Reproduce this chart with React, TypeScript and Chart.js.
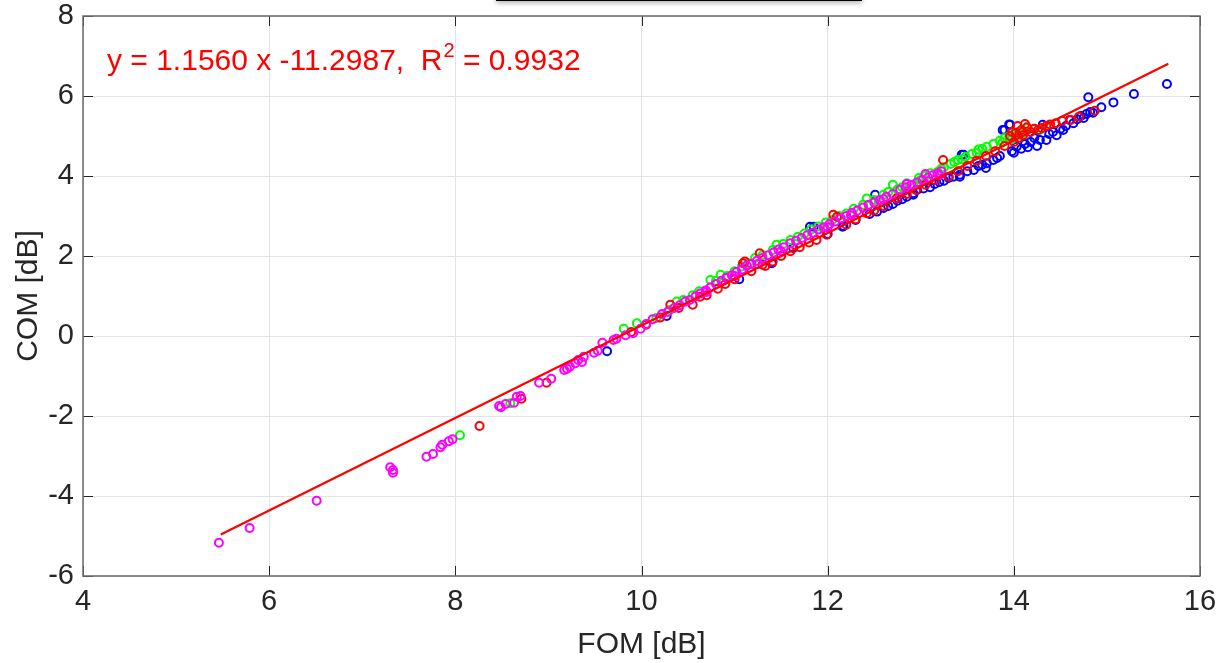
import React, { useEffect, useRef } from "react";
import { Chart, registerables } from "chart.js";

Chart.register(...registerables);

// FOM [dB], COM [dB] pairs
const bluePts: [number, number][] = [
  [9.63, -0.38], [10.27, 0.5], [11.05, 1.42], [11.4, 1.82], [11.63, 2.2], [11.81, 2.73], [11.85, 2.73],
  [12.0, 2.55], [12.16, 2.73], [12.17, 2.75], [12.3, 2.9], [12.45, 3.05], [12.51, 3.53], [12.53, 3.11],
  [12.6, 3.2], [12.65, 3.25], [12.7, 3.3], [12.75, 3.38], [12.8, 3.42], [12.85, 3.48], [12.92, 3.53],
  [12.92, 3.57], [12.96, 3.65], [13.03, 3.69], [13.1, 3.72], [13.15, 3.8], [13.2, 3.85], [13.25, 3.88],
  [13.3, 3.95], [13.35, 3.98], [13.42, 4.03], [13.42, 3.98], [13.44, 4.53], [13.46, 4.53], [13.5, 4.12],
  [13.57, 4.15], [13.62, 4.25], [13.66, 4.28], [13.7, 4.2], [13.71, 4.32], [13.78, 4.4], [13.82, 4.45],
  [13.85, 4.5], [13.88, 5.15], [13.9, 5.15], [13.95, 5.29], [13.96, 5.28], [13.98, 4.62], [14.0, 4.58],
  [14.03, 4.73], [14.08, 4.68], [14.12, 4.8], [14.15, 4.72], [14.18, 4.85], [14.22, 4.95], [14.25, 4.75],
  [14.28, 4.9], [14.31, 5.28], [14.35, 4.9], [14.38, 5.05], [14.42, 5.1], [14.46, 5.02], [14.5, 5.18],
  [14.53, 5.15], [14.56, 5.25], [14.6, 5.4], [14.64, 5.32], [14.68, 5.42], [14.72, 5.5], [14.75, 5.45],
  [14.78, 5.55], [14.8, 5.97], [14.82, 5.6], [14.85, 5.58], [14.94, 5.72], [15.07, 5.84], [15.29, 6.05],
  [15.645, 6.3],
];

const greenPts: [number, number][] = [
  [8.05, -2.48], [8.59, -1.68], [9.81, 0.18], [9.95, 0.32], [10.16, 0.45], [10.3, 0.65], [10.38, 0.86],
  [10.45, 0.9], [10.55, 1.02], [10.62, 1.12], [10.74, 1.4], [10.8, 1.38], [10.85, 1.53], [10.92, 1.5],
  [11.0, 1.62], [11.08, 1.74], [11.15, 1.82], [11.22, 1.95], [11.3, 2.02], [11.41, 2.15], [11.45, 2.28],
  [11.52, 2.3], [11.6, 2.4], [11.68, 2.48], [11.75, 2.56], [11.82, 2.66], [11.9, 2.74], [11.95, 2.7],
  [11.98, 2.84], [12.05, 2.9], [12.12, 3.0], [12.2, 3.06], [12.28, 3.18], [12.38, 3.28], [12.42, 3.44],
  [12.5, 3.4], [12.55, 3.35], [12.6, 3.53], [12.65, 3.6], [12.7, 3.78], [12.75, 3.66], [12.8, 3.72],
  [12.85, 3.82], [12.92, 3.78], [12.98, 3.95], [13.0, 3.9], [13.05, 4.0], [13.1, 4.07], [13.18, 4.1],
  [13.22, 4.18], [13.25, 4.22], [13.32, 4.3], [13.36, 4.35], [13.4, 4.4], [13.45, 4.42], [13.48, 4.48],
  [13.55, 4.55], [13.6, 4.58], [13.62, 4.66], [13.66, 4.68], [13.71, 4.73], [13.78, 4.8], [13.85, 4.88],
  [13.88, 4.84], [13.9, 4.95], [13.95, 5.0], [13.98, 4.92], [14.0, 5.05], [14.05, 5.1], [14.08, 5.02],
  [14.1, 5.12], [14.15, 5.2], [14.22, 5.18], [14.28, 5.15],
];

const redPts: [number, number][] = [
  [8.26, -2.25], [8.71, -1.57], [8.98, -1.17], [9.89, 0.1], [10.05, 0.28], [10.2, 0.46], [10.31, 0.78],
  [10.4, 0.7], [10.55, 0.78], [10.63, 0.98], [10.7, 1.02], [10.82, 1.18], [10.9, 1.3], [11.0, 1.42],
  [11.09, 1.82], [11.11, 1.86], [11.18, 1.62], [11.27, 2.07], [11.3, 1.78], [11.33, 1.75], [11.41, 1.86],
  [11.5, 2.0], [11.6, 2.12], [11.7, 2.22], [11.8, 2.34], [11.88, 2.4], [11.99, 2.53], [12.06, 3.03],
  [12.1, 2.98], [12.2, 2.78], [12.3, 2.92], [12.42, 3.07], [12.5, 3.14], [12.6, 3.25], [12.74, 3.44],
  [12.85, 3.55], [12.95, 3.65], [13.05, 3.78], [13.15, 3.9], [13.24, 4.4], [13.3, 3.98], [13.4, 4.12],
  [13.5, 4.25], [13.6, 4.38], [13.7, 4.5], [13.8, 4.62], [13.9, 4.75], [13.96, 5.0], [13.98, 5.1],
  [14.0, 4.85], [14.02, 5.08], [14.04, 5.25], [14.05, 4.95], [14.08, 5.15], [14.1, 5.02], [14.12, 5.3],
  [14.14, 5.22], [14.18, 5.1], [14.22, 5.18], [14.26, 5.15], [14.3, 5.2], [14.35, 5.25], [14.39, 5.29],
  [14.45, 5.32], [14.52, 5.38], [14.61, 5.4], [14.7, 5.48], [14.87, 5.63],
];

const magentaPts: [number, number][] = [
  [5.46, -5.17], [5.79, -4.8], [6.51, -4.12], [7.3, -3.28], [7.33, -3.35], [7.33, -3.42], [7.69, -3.02],
  [7.76, -2.95], [7.84, -2.78], [7.86, -2.72], [7.93, -2.63], [7.97, -2.58], [8.47, -1.75], [8.49, -1.78],
  [8.54, -1.7], [8.63, -1.67], [8.66, -1.52], [8.7, -1.5], [8.9, -1.17], [9.03, -1.07], [9.17, -0.85],
  [9.2, -0.82], [9.23, -0.77], [9.29, -0.68], [9.32, -0.6], [9.36, -0.65], [9.38, -0.52], [9.49, -0.42],
  [9.53, -0.37], [9.58, -0.17], [9.7, -0.1], [9.73, -0.07], [9.83, 0.02], [9.91, 0.07], [9.99, 0.18],
  [10.05, 0.3], [10.12, 0.42], [10.22, 0.55], [10.28, 0.6], [10.35, 0.7], [10.41, 0.77], [10.47, 0.86],
  [10.52, 0.9], [10.58, 0.99], [10.63, 1.06], [10.69, 1.14], [10.7, 1.1], [10.74, 1.22], [10.8, 1.3],
  [10.86, 1.38], [10.91, 1.45], [10.97, 1.52], [11.0, 1.5], [11.02, 1.6], [11.08, 1.66], [11.13, 1.76],
  [11.18, 1.8], [11.24, 1.88], [11.25, 1.8], [11.3, 1.95], [11.36, 2.02], [11.42, 2.09], [11.47, 2.16],
  [11.5, 2.12], [11.53, 2.22], [11.6, 2.32], [11.66, 2.38], [11.72, 2.45], [11.78, 2.52], [11.84, 2.58],
  [11.9, 2.66], [11.96, 2.72], [12.0, 2.72], [12.02, 2.8], [12.08, 2.86], [12.14, 2.94], [12.2, 3.0],
  [12.25, 3.02], [12.26, 3.08], [12.32, 3.14], [12.38, 3.21], [12.44, 3.28], [12.5, 3.34], [12.56, 3.4],
  [12.6, 3.42], [12.63, 3.48], [12.7, 3.55], [12.78, 3.66], [12.84, 3.72], [12.85, 3.8], [12.9, 3.78],
  [12.96, 3.84], [13.02, 3.9], [13.05, 4.05], [13.08, 3.96], [13.13, 4.02], [13.18, 4.06], [13.2, 4.02],
  [13.22, 4.12],
];

// regression line end points (y = 1.1560 x - 11.2987)
const fitPts: [number, number][] = [
  [5.48, -4.964],
  [15.66, 6.804],
];

const xTicks = [4, 6, 8, 10, 12, 14, 16];
const yTicks = [-6, -4, -2, 0, 2, 4, 6, 8];
const eqMain = "y = 1.1560 x -11.2987,  R";
const eqSup = "2";
const eqTail = " = 0.9932";

const FONT = "'Liberation Sans', Arial, Helvetica, sans-serif";

const toXY = (a: [number, number][]) => a.map(([x, y]) => ({ x, y }));

const framePlugin = {
  id: "frame",
  beforeDatasetsDraw(chart: any) {
    const { ctx, chartArea } = chart;
    const { left, right, top, bottom } = chartArea;
    const xs = chart.scales.x;
    const ys = chart.scales.y;
    ctx.save();
    ctx.strokeStyle = "#262626";
    ctx.lineWidth = 1;
    const tl = 10;
    ctx.beginPath();
    xTicks.forEach((v) => {
      const px = Math.round(xs.getPixelForValue(v)) + 0.5;
      ctx.moveTo(px, bottom);
      ctx.lineTo(px, bottom - tl);
      ctx.moveTo(px, top);
      ctx.lineTo(px, top + tl);
    });
    yTicks.forEach((v) => {
      const py = Math.round(ys.getPixelForValue(v)) + 0.5;
      ctx.moveTo(left, py);
      ctx.lineTo(left + tl, py);
      ctx.moveTo(right, py);
      ctx.lineTo(right - tl, py);
    });
    ctx.stroke();
    ctx.strokeStyle = "#707070";
    ctx.lineWidth = 1.6;
    ctx.strokeRect(left, top, right - left, bottom - top);
    ctx.restore();
  },
  afterDraw(chart: any) {
    const { ctx } = chart;
    ctx.save();
    ctx.fillStyle = "#ff0000";
    ctx.textBaseline = "alphabetic";
    ctx.textAlign = "left";
    const x0 = 107;
    const base = 70;
    ctx.font = `30px ${FONT}`;
    ctx.fillText(eqMain, x0, base);
    const w1 = ctx.measureText(eqMain).width;
    ctx.font = `20px ${FONT}`;
    ctx.fillText(eqSup, x0 + w1 + 1, base - 13);
    const w2 = ctx.measureText(eqSup).width;
    ctx.font = `30px ${FONT}`;
    ctx.fillText(eqTail, x0 + w1 + 1 + w2, base);
    ctx.restore();
  },
};

export default function App() {
  const ref = useRef<HTMLCanvasElement | null>(null);

  useEffect(() => {
    if (!ref.current) return;
    const mk = (pts: [number, number][], color: string, order: number) => ({
      type: "scatter" as const,
      data: toXY(pts),
      borderColor: color,
      backgroundColor: "rgba(0,0,0,0)",
      pointRadius: 4,
      pointBorderWidth: 2,
      pointHoverRadius: 4,
      showLine: false,
      order,
    });
    const chart = new Chart(ref.current, {
      type: "scatter",
      data: {
        datasets: [
          {
            type: "line" as const,
            data: toXY(fitPts),
            borderColor: "#ff0000",
            borderWidth: 2.2,
            pointRadius: 0,
            fill: false,
            order: 0,
          } as any,
          mk(magentaPts, "#ff00ff", 1),
          mk(redPts, "#ff0000", 2),
          mk(greenPts, "#00ff00", 3),
          mk(bluePts, "#0000ff", 4),
        ],
      },
      options: {
        animation: false,
        responsive: false,
        devicePixelRatio: 1,
        events: [],
        layout: { padding: { top: 16, right: 20, left: 0, bottom: 0 } },
        plugins: { legend: { display: false }, tooltip: { enabled: false } },
        scales: {
          x: {
            type: "linear",
            min: 4,
            max: 16,
            afterBuildTicks: (s: any) => {
              s.ticks = xTicks.map((v) => ({ value: v }));
            },
            afterFit: (s: any) => {
              s.height = 87;
              s.paddingLeft = 0;
              s.paddingRight = 0;
            },
            ticks: {
              color: "#262626",
              padding: 11,
              font: { family: FONT, size: 29, lineHeight: 1 },
            },
            grid: { color: "#e3e3e3", lineWidth: 1, drawTicks: false },
            border: { display: false },
            title: {
              display: true,
              text: "FOM [dB]",
              color: "#262626",
              font: { family: FONT, size: 30, lineHeight: 1.2 },
              padding: { top: 0, bottom: 0 },
            },
          },
          y: {
            type: "linear",
            min: -6,
            max: 8,
            afterBuildTicks: (s: any) => {
              s.ticks = yTicks.map((v) => ({ value: v }));
            },
            afterFit: (s: any) => {
              s.width = 83;
              s.paddingTop = 0;
              s.paddingBottom = 0;
            },
            ticks: {
              color: "#262626",
              padding: 9,
              font: { family: FONT, size: 29, lineHeight: 1 },
            },
            grid: { color: "#e3e3e3", lineWidth: 1, drawTicks: false },
            border: { display: false },
            title: {
              display: true,
              text: "COM [dB]",
              color: "#262626",
              font: { family: FONT, size: 30, lineHeight: 1.2 },
              padding: { top: 11, bottom: 0 },
            },
          },
        },
      },
      plugins: [framePlugin],
    });
    return () => chart.destroy();
  }, []);

  return (
    <div style={{ position: "absolute", left: 0, top: 0, width: 1220, height: 663, background: "#fff", overflow: "hidden" }}>
      <canvas ref={ref} width={1220} height={663} style={{ display: "block" }} />
      <div
        style={{
          position: "absolute",
          left: 496,
          top: -40,
          width: 366,
          height: 40,
          borderBottom: "1px solid #000",
          boxShadow: "0 2px 5px rgba(0,0,0,0.3)",
          background: "#fff",
        }}
      />
    </div>
  );
}
